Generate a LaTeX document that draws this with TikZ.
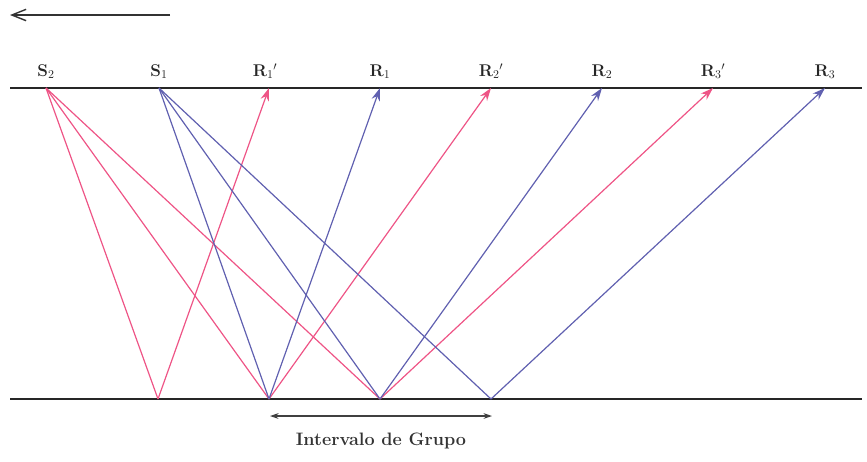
\documentclass[tikz,border=0pt]{standalone}
\usepackage{amsmath,amssymb}
\usepackage{fix-cm}
\usepackage{xcolor}
\usepackage{tikz}
\usetikzlibrary{arrows.meta,positioning}

\definecolor{raypink}{RGB}{238,84,134}
\definecolor{rayblue}{RGB}{96,96,176}

\begin{document}
\begin{tikzpicture}[
x=1pt,y=-1pt,
lbl/.style={font=\fontsize{17}{19}\selectfont\bfseries,inner sep=1pt,black!85},
surf/.style={line width=1.5pt,black!85},
pray/.style={raypink,line width=1.2pt},
bray/.style={rayblue,line width=1.2pt},
parr/.style={pray,-{Stealth[length=4.5mm,width=3mm]}},
barr/.style={bray,-{Stealth[length=4.5mm,width=3mm]}}
]
\useasboundingbox (0,0) rectangle (867,461);
% surface and reflector
\coordinate (tl) at (10,88);
\coordinate (tr) at (862,88);
\coordinate (bl) at (10,399);
\coordinate (br) at (862,399);
\draw[surf] (tl) -- (tr);
\draw[surf] (bl) -- (br);
% sources and receivers
\coordinate (s2) at (46,88);
\coordinate (s1) at (159,88);
\coordinate (r1p) at (269,88);
\coordinate (r1) at (380,88);
\coordinate (r2p) at (491,88);
\coordinate (r2) at (602,88);
\coordinate (r3p) at (713,88);
\coordinate (r3) at (825,88);
\node[lbl,above=8pt of s2] (ls2) {$\mathbf{S}_2$};
\node[lbl,above=8pt of s1] (ls1) {$\mathbf{S}_1$};
\node[lbl,above=8pt of r1p,xshift=-4pt] (lr1p) {$\mathbf{R}_1{}'$};
\node[lbl,above=8pt of r1] (lr1) {$\mathbf{R}_1$};
\node[lbl,above=8pt of r2p] (lr2p) {$\mathbf{R}_2{}'$};
\node[lbl,above=8pt of r2] (lr2) {$\mathbf{R}_2$};
\node[lbl,above=8pt of r3p] (lr3p) {$\mathbf{R}_3{}'$};
\node[lbl,above=8pt of r3] (lr3) {$\mathbf{R}_3$};
% reflection points
\coordinate (pa) at (158,399);
\coordinate (pb) at (269,399);
\coordinate (pc) at (380,399);
\coordinate (pd) at (491,399);
% rays from S2
\draw[pray] (s2) -- (pa);
\draw[pray] (s2) -- (pb);
\draw[pray] (s2) -- (pc);
\draw[parr] (pa) -- (r1p);
\draw[parr] (pb) -- (r2p);
\draw[parr] (pc) -- (r3p);
% rays from S1
\draw[bray] (s1) -- (pb);
\draw[bray] (s1) -- (pc);
\draw[bray] (s1) -- (pd);
\draw[barr] (pb) -- (r1);
\draw[barr] (pc) -- (r2);
\draw[barr] (pd) -- (r3);
% direction and group interval
\coordinate (da) at (170,15);
\coordinate (db) at (10,15);
\draw[line width=1.4pt,black!80,-{Straight Barb[length=5mm,width=4mm]}] (da) -- (db);
\coordinate (ga) at (270,416);
\coordinate (gb) at (492,416);
\draw[line width=1.2pt,black!75,{Stealth[length=3mm,width=2mm]}-{Stealth[length=3mm,width=2mm]}] (ga) -- (gb);
\node[font=\fontsize{18}{20}\selectfont\bfseries,black!80] (grupo) at (381,441) {Intervalo de Grupo};
\end{tikzpicture}
\end{document}
